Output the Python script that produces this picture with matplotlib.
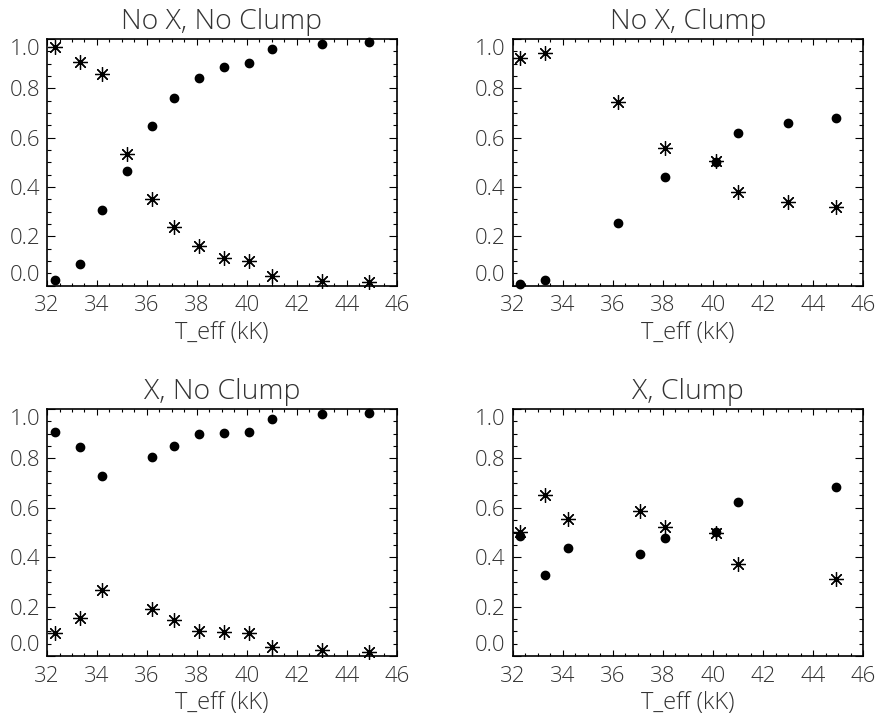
import matplotlib
matplotlib.use("Agg")
import matplotlib.pyplot as plt
from matplotlib.ticker import MultipleLocator

# effective temperatures (kK)
teff_full = [32.3, 33.3, 34.2, 35.2, 36.2, 37.1, 38.1, 39.1, 40.1, 41.0, 43.0, 44.9]

# panel 1: No X, No Clump
p1_dots = [0.024, 0.088, 0.306, 0.465, 0.648, 0.762, 0.840, 0.886, 0.902, 0.961, 0.980, 0.986]
p1_stars = [0.969, 0.906, 0.858, 0.535, 0.350, 0.238, 0.160, 0.112, 0.098, 0.038, 0.020, 0.016]

# panel 2: No X, Clump
teff_p2 = [32.3, 33.3, 36.2, 38.1, 40.1, 41.0, 43.0, 44.9]
p2_dots = [0.005, 0.023, 0.254, 0.441, 0.500, 0.620, 0.658, 0.681]
p2_stars = [0.924, 0.942, 0.743, 0.559, 0.504, 0.378, 0.341, 0.318]

# panel 3: X, No Clump
teff_p3 = [32.3, 33.3, 34.2, 36.2, 37.1, 38.1, 39.1, 40.1, 41.0, 43.0, 44.9]
p3_dots = [0.907, 0.845, 0.730, 0.806, 0.852, 0.899, 0.903, 0.907, 0.961, 0.978, 0.985]
p3_stars = [0.094, 0.154, 0.269, 0.190, 0.147, 0.101, 0.099, 0.093, 0.038, 0.023, 0.018]

# panel 4: X, Clump
teff_p4 = [32.3, 33.3, 34.2, 37.1, 38.1, 40.1, 41.0, 44.9]
p4_dots = [0.486, 0.327, 0.439, 0.412, 0.476, 0.503, 0.625, 0.686]
p4_stars = [0.501, 0.653, 0.553, 0.586, 0.521, 0.498, 0.372, 0.312]

titles = ["No X, No Clump", "No X, Clump", "X, No Clump", "X, Clump"]
xticks = [32, 34, 36, 38, 40, 42, 44, 46]
yticks = [0.0, 0.2, 0.4, 0.6, 0.8, 1.0]

panels = [
    (teff_full, p1_dots, p1_stars),
    (teff_p2, p2_dots, p2_stars),
    (teff_p3, p3_dots, p3_stars),
    (teff_p4, p4_dots, p4_stars),
]

# axes boxes in figure fractions (left, bottom, width, height)
boxes = [
    (0.0536, 0.6033, 0.399, 0.3425),
    (0.5846, 0.6033, 0.3998, 0.3425),
    (0.0536, 0.0889, 0.399, 0.343),
    (0.5846, 0.0889, 0.3998, 0.343),
]

plt.rcParams['font.family'] = ['Open Sans', 'DejaVu Sans']
plt.rcParams['font.weight'] = 300
txt = '#333333'

fig = plt.figure(figsize=(8.77, 7.2), dpi=100)

for (x, dots, stars), box, title in zip(panels, boxes, titles):
    ax = fig.add_axes(box)
    ax.plot(x, dots, 'o', color='black', markersize=6, clip_on=False, zorder=3)
    ax.plot(x, stars, linestyle='none', marker=(8, 2, 0), color='black',
            markersize=10.5, markeredgewidth=0.9, clip_on=False, zorder=3)
    ax.set_xticks(xticks)
    ax.set_yticks(yticks)
    ax.set_yticklabels([f"{v:.1f}" for v in yticks])
    ax.xaxis.set_minor_locator(MultipleLocator(0.5))
    ax.yaxis.set_minor_locator(MultipleLocator(0.05))
    ax.tick_params(which='both', direction='in', top=True, right=True,
                   labelsize=16, labelcolor=txt, width=0.8)
    ax.tick_params(axis='x', which='major', length=4, pad=7)
    ax.tick_params(axis='x', which='minor', length=2.2)
    ax.tick_params(axis='y', which='major', length=5.5, pad=5)
    ax.tick_params(axis='y', which='minor', length=3)
    for s in ax.spines.values():
        s.set_linewidth(1.2)
    labs = ax.get_yticklabels()
    labs[0].set_va('bottom')
    labs[-1].set_va('top')
    ax.set_xlabel("T_eff (kK)", fontsize=17, fontweight=300, color=txt, labelpad=3)
    ax.set_title(title, fontsize=20.5, fontweight=300, color=txt, pad=7)
    ax.set_xlim(32, 46)
    ax.set_ylim(0, 1)
    ax.autoscale(False)

fig.savefig("out.png", dpi=100)
